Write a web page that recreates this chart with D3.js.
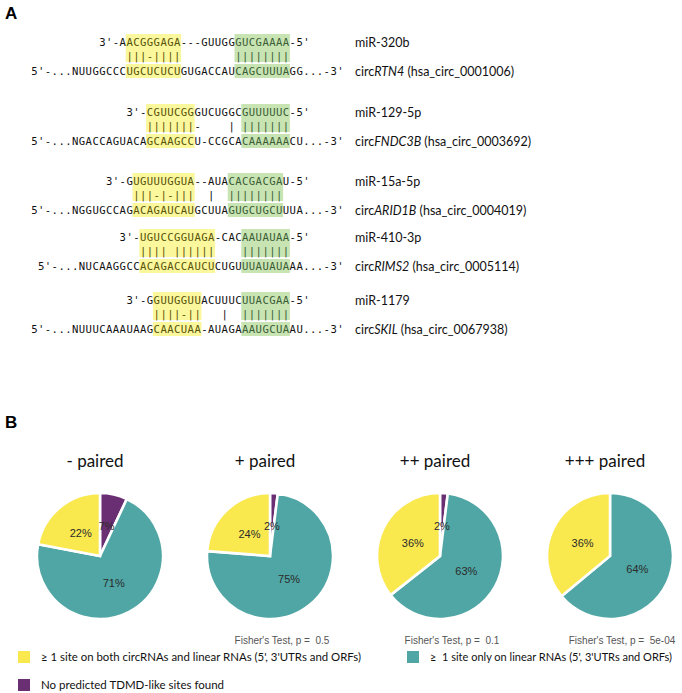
<!DOCTYPE html>
<html><head><meta charset="utf-8">
<script src="https://cdn.jsdelivr.net/npm/d3@7"></script>
<style>
body{margin:0;background:#fff}
svg text{font-family:Lato,"Open Sans",sans-serif}
</style></head><body>
<svg id="fig" width="682" height="693"></svg>
<script>
// ---------- Panel A data ----------
const mirNames = ["miR-320b","miR-129-5p","miR-15a-5p","miR-410-3p","miR-1179"];
const circGenes = ["RTN4","FNDC3B","ARID1B","RIMS2","SKIL"];
const circIds = ["hsa_circ_0001006","hsa_circ_0003692","hsa_circ_0004019","hsa_circ_0005114","hsa_circ_0067938"];
const mirSeqs = ["3'-AACGGGAGA---GUUGGGUCGAAAA-5'","3'-CGUUCGGGUCUGGCGUUUUUC-5'","3'-GUGUUUGGUA--AUACACGACGAU-5'","3'-UGUCCGGUAGA-CACAAUAUAA-5'","3'-GGUUGGUUACUUUCUUACGAA-5'"];
const mirStartCol = [10,14,11,13,14];
const pairLines = ["|||-||||        ||||||||","|||||||-    | |||||||","|||-|-|||  |  ||||||||","|||| ||||||    |||||||","||||-||   |  |||||||"];
const pairStartCol = [14,17,15,16,18];
const targetSeqs = ["5'-...NUUGGCCCUGCUCUCUGUGACCAUCAGCUUUAGG...-3'","5'-...NGACCAGUACAGCAAGCCU-CCGCACAAAAAACU...-3'","5'-...NGGUGCCAGACAGAUCAUGCUUAGUGCUGCUUUA...-3'","5'-...NUCAAGGCCACAGACCAUCUCUGUUUAUAUAAA...-3'","5'-...NUUUCAAAUAAGCAACUAA-AUAGAAAUGCUAAU...-3'"];
const targetStartCol = [0,0,0,1,0];
const seedCols = [[14,21],[17,23],[15,23],[16,26],[18,24]];
const supplCols = [[30,37],[31,37],[29,36],[31,37],[31,37]];

// ---------- Panel B data ----------
const pieTitles = ["- paired","+ paired","++ paired","+++ paired"];
const pctNoSite = [7,2,2,0];
const pctLinearOnly = [71,75,63,64];
const pctBoth = [22,24,36,36];
const fisherP = ["","0.5","0.1","5e-04"];
const legendLabels = ["\u2265 1 site on both circRNAs and linear RNAs (5', 3'UTRs and ORFs)","\u2265  1 site only on linear RNAs (5', 3'UTRs and ORFs)","No predicted TDMD-like sites found"];
const categoryKeys = ["none","linear","both"];
const categoryColors = ["#6a2e72","#4fa6a4","#fae84f"];

const svg = d3.select("#fig");
const color = d3.scaleOrdinal().domain(categoryKeys).range(categoryColors);
const boldFont = "'Liberation Sans',Arial,sans-serif";

// ---------- Panel A ----------
svg.append("text").attr("x",5).attr("y",19).style("font-family",boldFont)
  .attr("font-weight","bold").attr("font-size",17).text("A");

const cw = 6.8;
const colX = d3.scaleLinear().domain([0,46]).range([31,31+46*cw]);
const rowY = d3.scaleOrdinal().domain(mirNames).range([42,112,181,237,300]);
const yellowBg = "#fbf79c", greenBg = "#c8e4b3";

function drawSeq(g, str, startCol, yc, ranges){
  const chars = [...str];
  const runs = [];
  chars.forEach((c,i)=>{
    const col = startCol+i;
    if(c===' '){ runs.push(null); return; }
    let k = 'n';
    if(col>=ranges[0][0] && col<=ranges[0][1]) k='y';
    else if(col>=ranges[1][0] && col<=ranges[1][1]) k='g';
    const last = runs[runs.length-1];
    if(last && last.k===k){ last.s += c; }
    else runs.push({k, s:c, col});
  });
  const t = g.append("text").attr("y",yc+4)
    .style("font-family","'DejaVu Sans Mono','Liberation Mono',monospace").attr("font-size",10.6);
  runs.filter(r=>r).forEach(r=>{
    t.append("tspan")
      .attr("x",[...r.s].map((c,i)=>colX(r.col+i)+0.2).join(" "))
      .attr("fill", r.k==='y' ? "#57520a" : r.k==='g' ? "#3a5c35" : "#111")
      .text(r.s);
  });
}

mirNames.forEach((m,i)=>{
  const g = svg.append("g");
  const y = rowY(m);
  const ranges = [seedCols[i], supplCols[i]];
  ranges.forEach((r,j)=>{
    const x0 = colX(r[0])-0.5, w = colX(r[1]+1)-colX(r[0])+1;
    g.append("rect").attr("x",x0).attr("y",y-8).attr("width",w).attr("height",28)
      .attr("fill", j===0?yellowBg:greenBg);
    g.append("rect").attr("x",x0).attr("y",y+22).attr("width",w).attr("height",14)
      .attr("fill", j===0?yellowBg:greenBg);
  });
  drawSeq(g, mirSeqs[i], mirStartCol[i], y, ranges);
  drawSeq(g, pairLines[i], pairStartCol[i], y+14, ranges);
  drawSeq(g, targetSeqs[i], targetStartCol[i], y+29, ranges);
  g.append("text").attr("x",355).attr("y",y+4.5).attr("font-size",12.5).attr("fill","#111").text(m);
  const ct = g.append("text").attr("x",355).attr("y",y+33.5).attr("font-size",12.5).attr("fill","#111");
  ct.append("tspan").text("circ");
  ct.append("tspan").attr("font-style","italic").text(circGenes[i]);
  ct.append("tspan").text(" ("+circIds[i]+")");
});

// ---------- Panel B ----------
svg.append("text").attr("x",5).attr("y",428).style("font-family",boldFont)
  .attr("font-weight","bold").attr("font-size",17).text("B");

const R = 63;
const pieX = d3.scalePoint().domain(pieTitles).range([100,610]);
const pieY = 556;
const pie = d3.pie().sort(null).value(d=>d.v);
const arc = d3.arc().innerRadius(0).outerRadius(R);
const labelArc = d3.arc().innerRadius(R*0.48).outerRadius(R*0.48);

pieTitles.forEach((t,i)=>{
  const cx = pieX(t);
  svg.append("text").attr("x",cx-5).attr("y",467).attr("text-anchor","middle")
    .attr("font-size",17).attr("fill","#111").text(t);
  const data = [pctNoSite[i],pctLinearOnly[i],pctBoth[i]].map((v,j)=>({k:categoryKeys[j],v}));
  const g = svg.append("g").attr("transform",`translate(${cx},${pieY})`);
  const arcs = pie(data);
  g.selectAll("path").data(arcs).join("path")
    .attr("d",arc).attr("fill",d=>color(d.data.k))
    .attr("stroke","#fff").attr("stroke-width",2.6);
  g.selectAll("text").data(arcs.filter(d=>d.data.v>0)).join("text")
    .attr("transform",d=>`translate(${labelArc.centroid(d)})`)
    .attr("text-anchor","middle").attr("dy","0.35em")
    .style("font-family",boldFont).attr("font-size",11)
    .attr("fill","#2b2b2b").text(d=>d.data.v+"%");
  if(fisherP[i]){
    svg.append("text").attr("x",cx+12).attr("y",644).attr("text-anchor","middle")
      .style("font-family","'Liberation Sans Narrow','Arial Narrow','Liberation Sans',sans-serif")
      .attr("font-size",10).attr("fill","#555")
      .style("white-space","pre")
      .text("Fisher's Test, p =  "+fisherP[i]);
  }
});

// legend
const legendItems = [
  {k:"both", label:legendLabels[0], x:18, y:657, w:320, fs:12},
  {k:"linear", label:legendLabels[1], x:407, y:657, w:242, fs:11.4},
  {k:"none", label:legendLabels[2], x:18, y:685, w:183, fs:12}
];
legendItems.forEach(d=>{
  svg.append("rect").attr("x",d.x).attr("y",d.y-6).attr("width",12).attr("height",12).attr("fill",color(d.k));
  svg.append("text").attr("x",d.x+23).attr("y",d.y+4).attr("font-size",d.fs).attr("fill","#111")
    .attr("textLength",d.w).attr("lengthAdjust","spacingAndGlyphs")
    .style("white-space","pre").text(d.label);
});
</script>
</body></html>
